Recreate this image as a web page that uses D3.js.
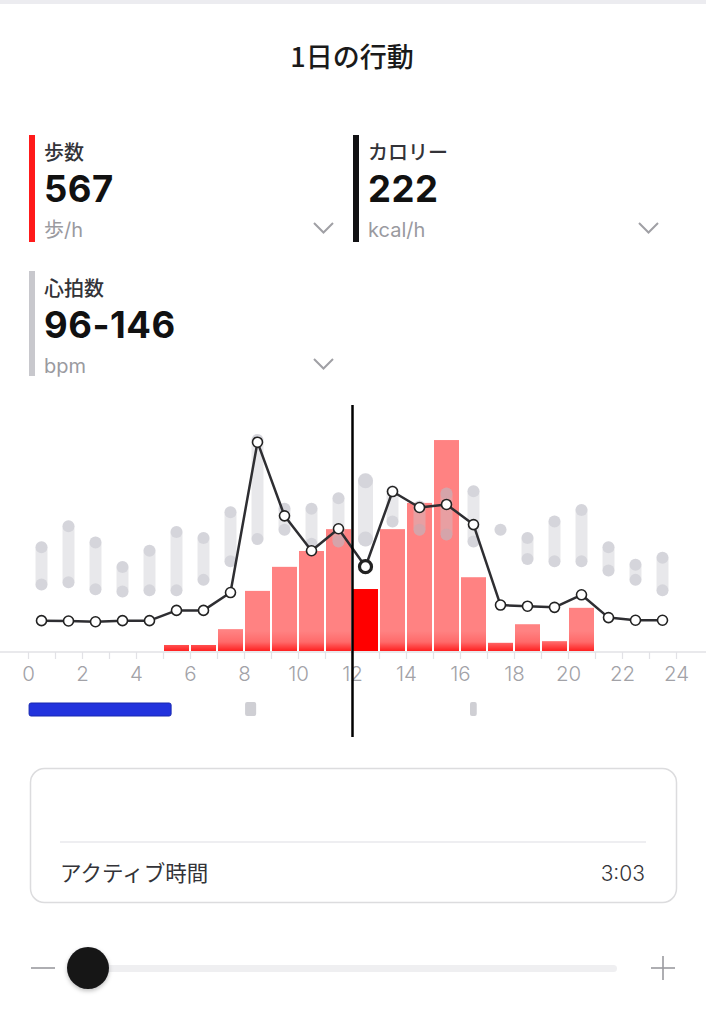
<!DOCTYPE html>
<html><head><meta charset="utf-8">
<script src="https://cdn.jsdelivr.net/npm/d3@7"></script>
<style>
html,body{margin:0;padding:0;background:#fff;}
svg{display:block;}
</style></head>
<body>
<svg id="c" width="706" height="1024"></svg>
<script>
// ---- data ----
const hours = [0,1,2,3,4,5,6,7,8,9,10,11,12,13,14,15,16,17,18,19,20,21,22,23];
const steps = [0,0,0,0,0,55,55,200,550,770,915,1115,567,1115,1355,1930,675,75,245,90,395,0,0,0];
const calories = [80,79,77,80,80,107,107,154,550,356,264,322,222,420,378,386,333,121,118,115,148,88,81,81];
const hrMin = [57,59,53,51,52,52,61,77,96,104,92,94,96,111,104,100,94,104,79,77,77,69,61,52];
const hrMax = [89,107,93,72,86,102,97,119,181,122,122,131,146,137,124,135,137,104,97,111,121,89,74,80];
const tickLabels = ["0","2","4","6","8","10","12","14","16","18","20","22","24"];
const sleepSegments = [{start:0.04,end:5.3,type:"sleep"},{start:8.04,end:8.45,type:"awake"},{start:16.37,end:16.62,type:"awake"}];
const selectedHour = 12;
const metrics = [
  {label:"歩数", value:"567", unit:"歩/h", color:"#ff1a1a"},
  {label:"カロリー", value:"222", unit:"kcal/h", color:"#111114"},
  {label:"心拍数", value:"96-146", unit:"bpm", color:"#c8c8cd"}
];
const title = "1日の行動";
const activeLabel = "アクティブ時間";
const activeValue = "3:03";

// ---- setup ----
const svg = d3.select("#c");
const jp = "'Noto Sans CJK JP', sans-serif";
const num = "Inter, 'Noto Sans CJK JP', sans-serif";
const base = 651;

const defs = svg.append("defs");
const g1 = defs.append("linearGradient").attr("id","barGrad").attr("gradientUnits","userSpaceOnUse")
  .attr("x1",0).attr("x2",0).attr("y1",base-20).attr("y2",base);
g1.append("stop").attr("offset","0").attr("stop-color","#ff8282");
g1.append("stop").attr("offset","0.55").attr("stop-color","#ff6a6a");
g1.append("stop").attr("offset","1").attr("stop-color","#ff2020");
const sh = defs.append("filter").attr("id","shadow").attr("x","-50%").attr("y","-50%").attr("width","200%").attr("height","200%");
sh.append("feDropShadow").attr("dx",0).attr("dy",2).attr("stdDeviation",2).attr("flood-color","#000").attr("flood-opacity",0.25);

// top band
svg.append("rect").attr("x",0).attr("y",0).attr("width",706).attr("height",4).attr("fill","#ececf0");

// title
svg.append("text").attr("x",352).attr("y",67).attr("text-anchor","middle")
  .attr("font-family",jp).attr("font-size",27).attr("font-weight",500).attr("fill","#1a1a1a").text(title);

// metrics
const metricPos = [{x:29,y:135,h:107},{x:353,y:135,h:107},{x:29,y:271,h:105}];
const chevX = [314,639,314];
metrics.forEach((m,i)=>{
  const p = metricPos[i];
  svg.append("rect").attr("x",p.x).attr("y",p.y).attr("width",6).attr("height",p.h).attr("fill",m.color);
  const tx = p.x+15;
  svg.append("text").attr("x",tx).attr("y",p.y+24.5).attr("font-family",jp).attr("font-size",20)
    .attr("font-weight",500).attr("fill","#333338").text(m.label);
  svg.append("text").attr("x",tx).attr("y",p.y+66.5).attr("font-family",num).attr("font-size",36.5)
    .attr("font-weight",700).attr("fill","#111").attr("letter-spacing",0.5).text(m.value);
  svg.append("text").attr("x",tx).attr("y",p.y+101.5).attr("font-family",num).attr("font-size",20)
    .attr("font-weight",400).attr("fill","#9a9a9f").text(m.unit);
  const cy = p.y+88;
  svg.append("polyline").attr("points",`${chevX[i]},${cy} ${chevX[i]+9.5},${cy+9.5} ${chevX[i]+19},${cy}`)
    .attr("fill","none").attr("stroke","#a0a0a5").attr("stroke-width",2);
});

// ---- chart ----
const x = d3.scaleLinear().domain([0,24]).range([28,676]);
const ySteps = d3.scaleLinear().domain([0,2400]).range([base, base-2400*0.1093]);
const yCal = d3.scaleLinear().domain([0,700]).range([base, base-700/2.634]);
const yHr = d3.scaleLinear().domain([0,200]).range([base, base-200*1.166]);

// bars
svg.append("g").selectAll("rect").data(hours.filter(h=>steps[h]>0)).join("rect")
  .attr("x",h=>x(h)+1).attr("width",h=>x(h+1)-x(h)-2)
  .attr("y",h=>ySteps(steps[h])).attr("height",h=>base-ySteps(steps[h]))
  .attr("fill",h=>h===selectedHour?"#ff0000":"url(#barGrad)");

// axis
svg.append("line").attr("x1",0).attr("x2",706).attr("y1",base+1).attr("y2",base+1)
  .attr("stroke","#e2e2e6").attr("stroke-width",1.5);
const axis = d3.axisBottom(x).tickValues(d3.range(0,25)).tickSize(7)
  .tickFormat(d=> d%2===0 ? tickLabels[d/2] : "");
const ag = svg.append("g").attr("transform",`translate(0,${base+1})`).call(axis);
ag.select(".domain").remove();
ag.selectAll(".tick line").attr("stroke","#e2e2e6").attr("stroke-width",1.2);
ag.selectAll(".tick text").attr("y",28.5).attr("dy",0).attr("font-family",num).attr("font-size",20.5)
  .attr("font-weight",300).attr("fill","#a2a2a7");

// heart rate capsules
const cap = svg.append("g");
hours.forEach(h=>{
  const cx = x(h+0.5);
  const w = h===selectedHour?15:12;
  const r = w/2;
  const yt = yHr(hrMax[h]), yb = yHr(hrMin[h]);
  cap.append("rect").attr("x",cx-r).attr("width",w).attr("y",yt-r).attr("height",yb-yt+w).attr("rx",r)
    .attr("fill","rgba(200,200,208,0.42)");
  cap.append("circle").attr("cx",cx).attr("cy",yt).attr("r",r).attr("fill","rgba(175,175,188,0.32)");
  if (hrMax[h]!==hrMin[h])
    cap.append("circle").attr("cx",cx).attr("cy",yb).attr("r",r).attr("fill","rgba(175,175,188,0.32)");
});

// calorie line
const line = d3.line().x(h=>x(h+0.5)).y(h=>yCal(calories[h]));
svg.append("path").datum(hours).attr("d",line).attr("fill","none").attr("stroke","#2e2e32")
  .attr("stroke-width",2.5).attr("stroke-linejoin","round");
svg.append("g").selectAll("circle").data(hours).join("circle")
  .attr("cx",h=>x(h+0.5)).attr("cy",h=>yCal(calories[h]))
  .attr("r",h=>h===selectedHour?6:5)
  .attr("fill","#fff").attr("stroke","#222")
  .attr("stroke-width",h=>h===selectedHour?3.2:1.6);

// sleep strip
svg.append("g").selectAll("rect").data(sleepSegments).join("rect")
  .attr("x",d=>x(d.start)).attr("width",d=>x(d.end)-x(d.start))
  .attr("y",d=>d.type==="sleep"?703:702).attr("height",d=>d.type==="sleep"?13:14)
  .attr("rx",2)
  .attr("fill",d=>d.type==="sleep"?"#2233dd":"#cfcfd4")
  .attr("stroke",d=>d.type==="sleep"?"#1828b0":"none").attr("stroke-width",1);

// selection line
svg.append("line").attr("x1",x(selectedHour+0.5)-13).attr("x2",x(selectedHour+0.5)-13)
  .attr("y1",405).attr("y2",737).attr("stroke","#000").attr("stroke-width",2.5);

// card
svg.append("rect").attr("x",30.5).attr("y",768.5).attr("width",646).attr("height",134).attr("rx",14)
  .attr("fill","#fff").attr("stroke","#dcdcde").attr("stroke-width",1.5);
svg.append("line").attr("x1",60).attr("x2",646).attr("y1",842).attr("y2",842).attr("stroke","#e8e8ec").attr("stroke-width",1.5);
svg.append("text").attr("x",60).attr("y",881).attr("font-family",jp).attr("font-size",21.5).attr("font-weight",400)
  .attr("fill","#333338").text(activeLabel);
svg.append("text").attr("x",645).attr("y",881).attr("text-anchor","end").attr("font-family",num).attr("font-size",21)
  .attr("font-weight",300).attr("fill","#333338").text(activeValue);

// slider
svg.append("line").attr("x1",31).attr("x2",55).attr("y1",968).attr("y2",968).attr("stroke","#9a9a9f").attr("stroke-width",1.6);
svg.append("rect").attr("x",90).attr("y",965).attr("width",527).attr("height",7).attr("rx",3.5).attr("fill","#efeff1");
svg.append("circle").attr("cx",88).attr("cy",968).attr("r",21).attr("fill","#151518").attr("filter","url(#shadow)");
svg.append("line").attr("x1",651).attr("x2",675).attr("y1",968).attr("y2",968).attr("stroke","#9a9a9f").attr("stroke-width",1.6);
svg.append("line").attr("x1",663).attr("x2",663).attr("y1",956).attr("y2",980).attr("stroke","#9a9a9f").attr("stroke-width",1.6);
</script>
</body></html>
